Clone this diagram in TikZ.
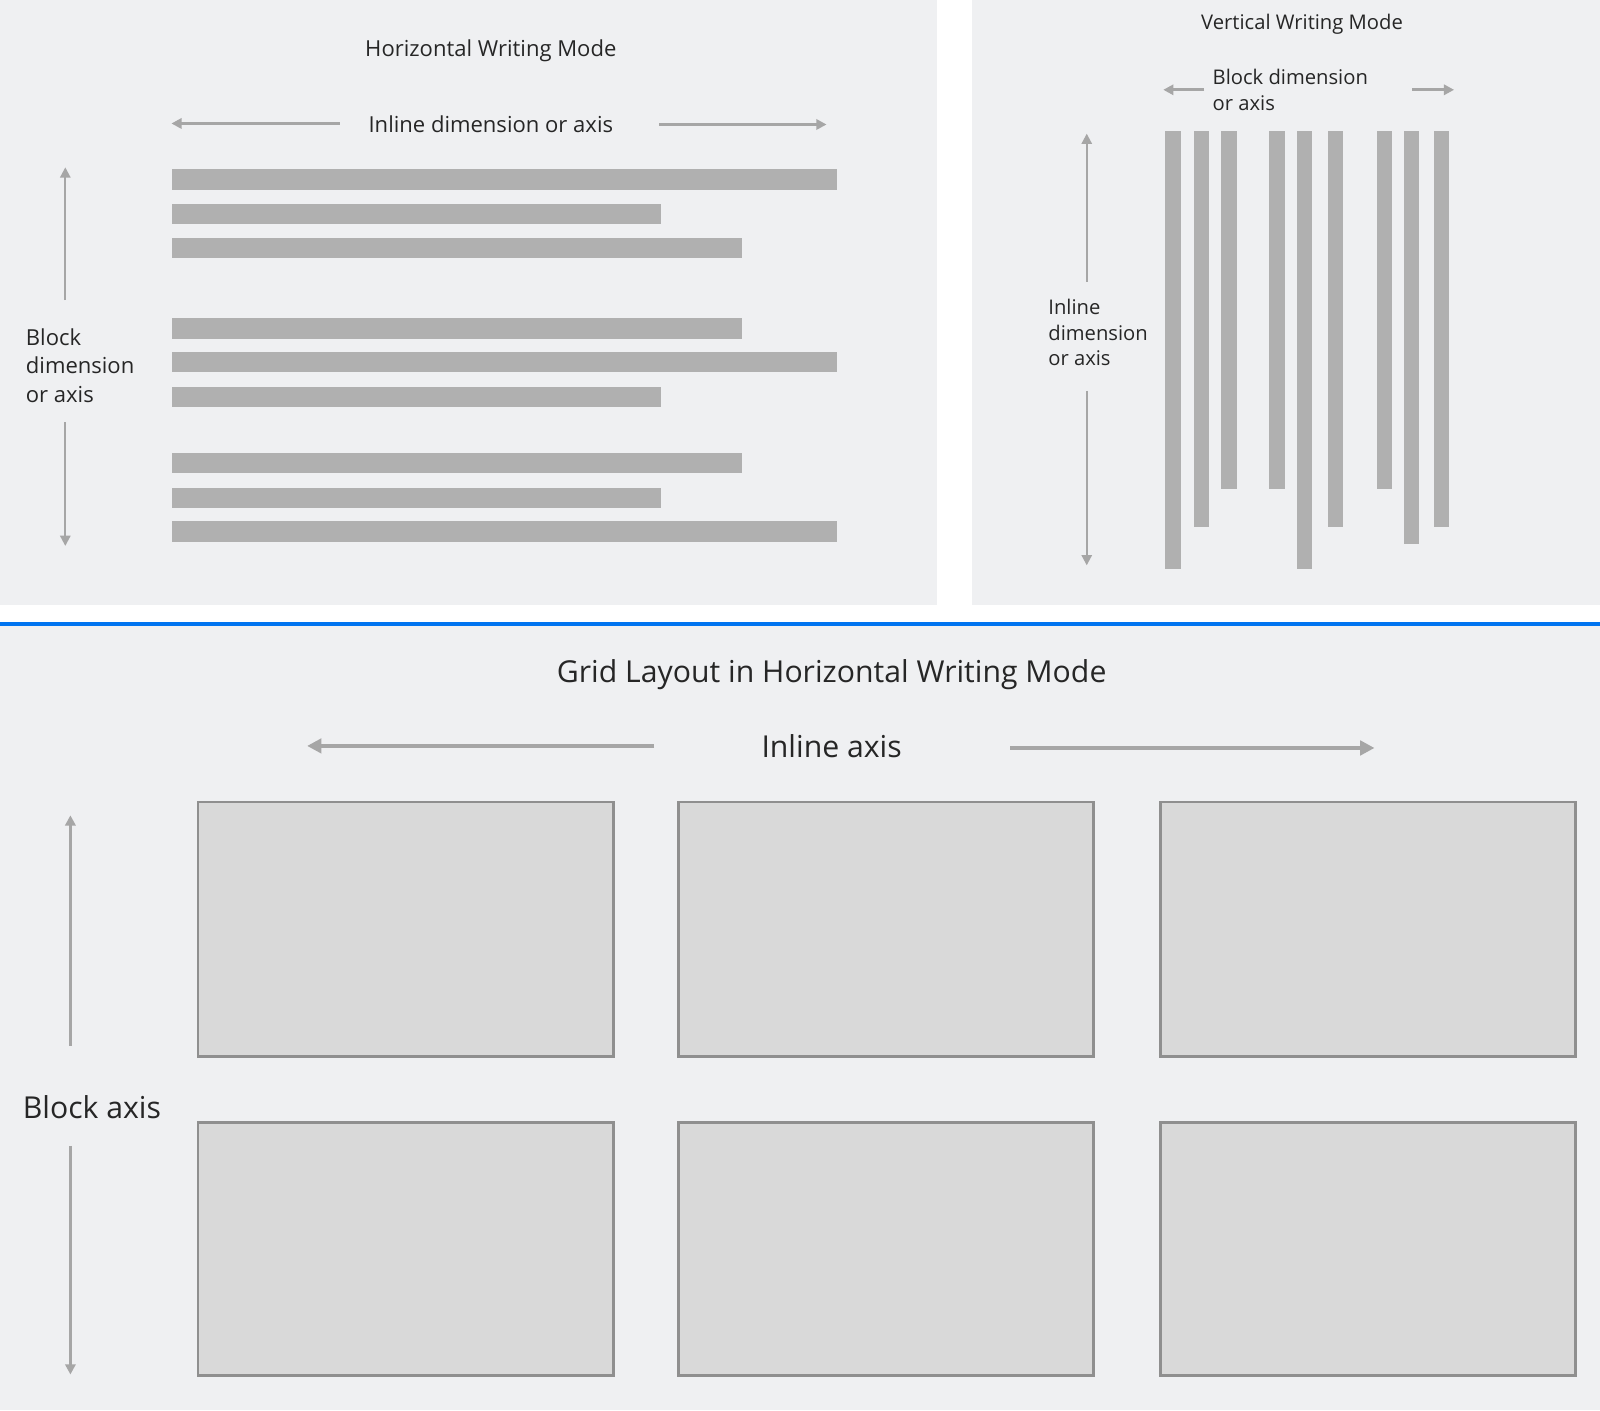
\documentclass[tikz,border=0pt]{standalone}
\usepackage{fontspec}
\setmainfont{Open Sans}
\usetikzlibrary{arrows.meta}
\definecolor{bg}{HTML}{EFF0F2}
\definecolor{barc}{HTML}{B0B0B0}
\definecolor{arr}{HTML}{A6A6A6}
\definecolor{boxfill}{HTML}{D9D9D9}
\definecolor{boxline}{HTML}{8F8F8F}
\definecolor{blueline}{HTML}{0074F0}
\definecolor{txt}{HTML}{262626}
\begin{document}
\begin{tikzpicture}[x=0.5pt,y=-0.5pt,
  hbar/.style={fill=barc,draw=none},
  tarrow/.style={draw=arr,line width=1.3pt,-{Triangle[length=5pt,width=5pt]}},
  varrow/.style={draw=arr,line width=1pt,-{Triangle[length=5pt,width=5pt]}},
  barrow/.style={draw=arr,line width=2pt,-{Triangle[length=7pt,width=7pt]}},
  lbl/.style={text=txt,inner sep=0pt},
  smallfont/.style={font=\fontsize{10.8}{14}\selectfont},
  rfont/.style={font=\fontsize{9.9}{12.5}\selectfont},
  bigfont/.style={font=\fontsize{14.8}{18}\selectfont},
  cell/.style={fill=boxfill,draw=boxline,line width=1.4pt}]
\useasboundingbox (0,0) rectangle (1568,1382);
\fill[white] (0,0) rectangle (1568,1382);
% panels
\fill[bg] (0,0) rectangle (918,593);
\fill[bg] (953,0) rectangle (1568,593);
\fill[bg] (0,613) rectangle (1568,1382);
\fill[blueline] (0,609.5) rectangle (1568,613.5);

% ---------- Horizontal writing mode ----------
\node[lbl,smallfont,anchor=base] (htitle) at (481,55) {Horizontal Writing Mode};
\node[lbl,smallfont,anchor=base] (hinline) at (481,130) {Inline dimension or axis};
\node[lbl,smallfont,anchor=west,align=left] (hblock) at (25,358) {Block\\dimension\\or axis};
\coordinate (hl1) at (333,121); \coordinate (hl2) at (168,121);
\coordinate (hr1) at (646,122); \coordinate (hr2) at (810,122);
\coordinate (hu1) at (64,294);  \coordinate (hu2) at (64,164);
\coordinate (hd1) at (64,414);  \coordinate (hd2) at (64,535);
\draw[tarrow] (hl1) -- (hl2);
\draw[tarrow] (hr1) -- (hr2);
\draw[varrow] (hu1) -- (hu2);
\draw[varrow] (hd1) -- (hd2);
\foreach \y/\e in {166/820,200/648,233/727,312/727,345/820,379/648,444/727,478/648,511/820}
  \fill[barc] (169,\y) rectangle (\e,\y+20);

% ---------- Vertical writing mode ----------
\node[lbl,rfont,anchor=base] (vtitle) at (1276,29) {Vertical Writing Mode};
\node[lbl,rfont,anchor=west,align=left] (vblock) at (1188,88) {Block dimension\\or axis};
\node[lbl,rfont,anchor=west,align=left] (vinline) at (1027,326) {Inline\\dimension\\or axis};
\coordinate (vl1) at (1180,88); \coordinate (vl2) at (1140,88);
\coordinate (vr1) at (1384,88); \coordinate (vr2) at (1425,88);
\coordinate (vu1) at (1065,276); \coordinate (vu2) at (1065,131);
\coordinate (vd1) at (1065,383); \coordinate (vd2) at (1065,554);
\draw[tarrow] (vl1) -- (vl2);
\draw[tarrow] (vr1) -- (vr2);
\draw[varrow] (vu1) -- (vu2);
\draw[varrow] (vd1) -- (vd2);
\foreach \x/\b in {1142/558,1170/516,1197/479,1244/479,1271/558,1301/516,1349/479,1376/533,1405/516}
  \fill[barc] (\x,128) rectangle (\x+15,\b);

% ---------- Grid layout ----------
\node[lbl,bigfont,anchor=base] (gtitle) at (815,669) {Grid Layout in Horizontal Writing Mode};
\node[lbl,bigfont,anchor=base] (ginline) at (815,742) {Inline axis};
\node[lbl,bigfont,anchor=base west] (gblock) at (22,1096) {Block axis};
\coordinate (gl1) at (641,731); \coordinate (gl2) at (301,731);
\coordinate (gr1) at (990,733); \coordinate (gr2) at (1347,733);
\coordinate (gu1) at (69,1025); \coordinate (gu2) at (69,799);
\coordinate (gd1) at (69,1123); \coordinate (gd2) at (69,1347);
\draw[barrow] (gl1) -- (gl2);
\draw[barrow] (gr1) -- (gr2);
\draw[tarrow] (gu1) -- (gu2);
\draw[tarrow] (gd1) -- (gd2);
\foreach \xa/\xb/\n in {194/601/1,665/1072/2,1137/1544/3}{
  \draw[cell] (\xa,786) rectangle (\xb,1035);
  \draw[cell] (\xa,1100) rectangle (\xb,1348);
}
\end{tikzpicture}
\end{document}
